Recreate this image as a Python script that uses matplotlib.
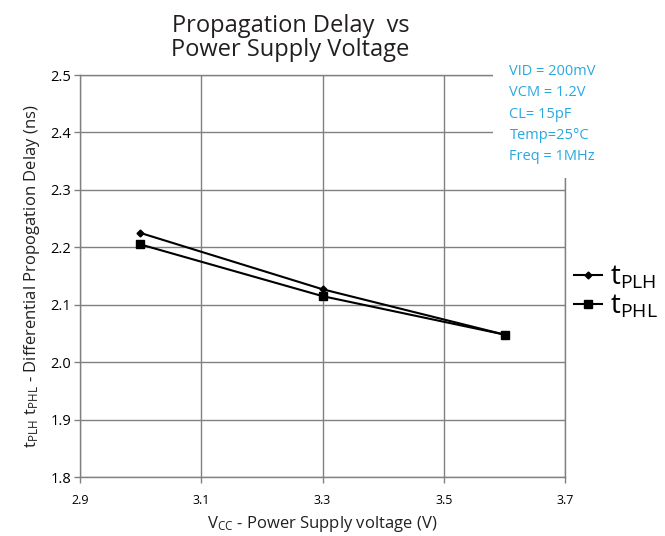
import matplotlib.pyplot as plt
from matplotlib.patches import Rectangle

# data
vcc = [3.0, 3.3, 3.6]
t_plh = [2.225, 2.127, 2.048]
t_phl = [2.205, 2.115, 2.048]
x_ticks = [2.9, 3.1, 3.3, 3.5, 3.7]
y_ticks = [1.8, 1.9, 2.0, 2.1, 2.2, 2.3, 2.4, 2.5]
conditions = ["VID = 200mV", "VCM = 1.2V", "CL= 15pF", "Temp=25°C", "Freq = 1MHz"]

plt.rcParams['font.family'] = ['Open Sans', 'DejaVu Sans']

fig = plt.figure(figsize=(6.65, 5.36), dpi=100)
ax = fig.add_axes([0.120, 0.110, 0.730, 0.750])

ax.plot(vcc, t_plh, color='black', lw=1.5, marker='D', ms=3.5, label=r'$\mathregular{t_{PLH}}$')
ax.plot(vcc, t_phl, color='black', lw=1.5, marker='s', ms=6, label=r'$\mathregular{t_{PHL}}$')

ax.set_xlim(2.9, 3.7)
ax.set_ylim(1.8, 2.5)
ax.set_xticks(x_ticks)
ax.set_yticks(y_ticks)
ax.set_xticklabels(["%.1f" % v for v in x_ticks], fontsize=9)
ax.set_yticklabels(["%.1f" % v for v in y_ticks], fontsize=10.5)
ax.tick_params(axis='x', length=4, color='#808080', width=1, pad=8)
ax.tick_params(axis='y', length=4, color='#808080', width=1, pad=2)
ax.grid(True, color='#808080', lw=1)
for s in ax.spines.values():
    s.set_color('#808080')
    s.set_linewidth(1)

ax.set_xlabel(r'$\mathregular{V_{CC}}$ - Power Supply voltage (V)', fontsize=12, labelpad=5,
              color='#231F20')
ax.set_ylabel(r'$\mathregular{t_{PLH}\ t_{PHL}}$ - Differential Propogation Delay (ns)', fontsize=12,
              labelpad=6, color='#231F20')

fig.text(0.437, 0.93, "Propagation Delay  vs\nPower Supply Voltage", ha='center', va='center',
         fontsize=17, linespacing=1.0, color='#231F20')

# white box behind the test conditions (hides grid and frame there)
fig.add_artist(Rectangle((0.742, 0.668), 0.26, 0.22, transform=fig.transFigure,
                         facecolor='white', edgecolor='none', zorder=2))
for i, c in enumerate(conditions):
    fig.text(0.766, 0.866 - i * 0.0395, c, color='#29A8E0', fontsize=10.5, va='center', zorder=3)

ax.legend(loc='center left', bbox_to_anchor=(0.995, 0.46), frameon=False, fontsize=20,
          handlelength=1.0, handletextpad=0.3, labelspacing=0.05, borderaxespad=0)

fig.savefig('out.png', dpi=100)
